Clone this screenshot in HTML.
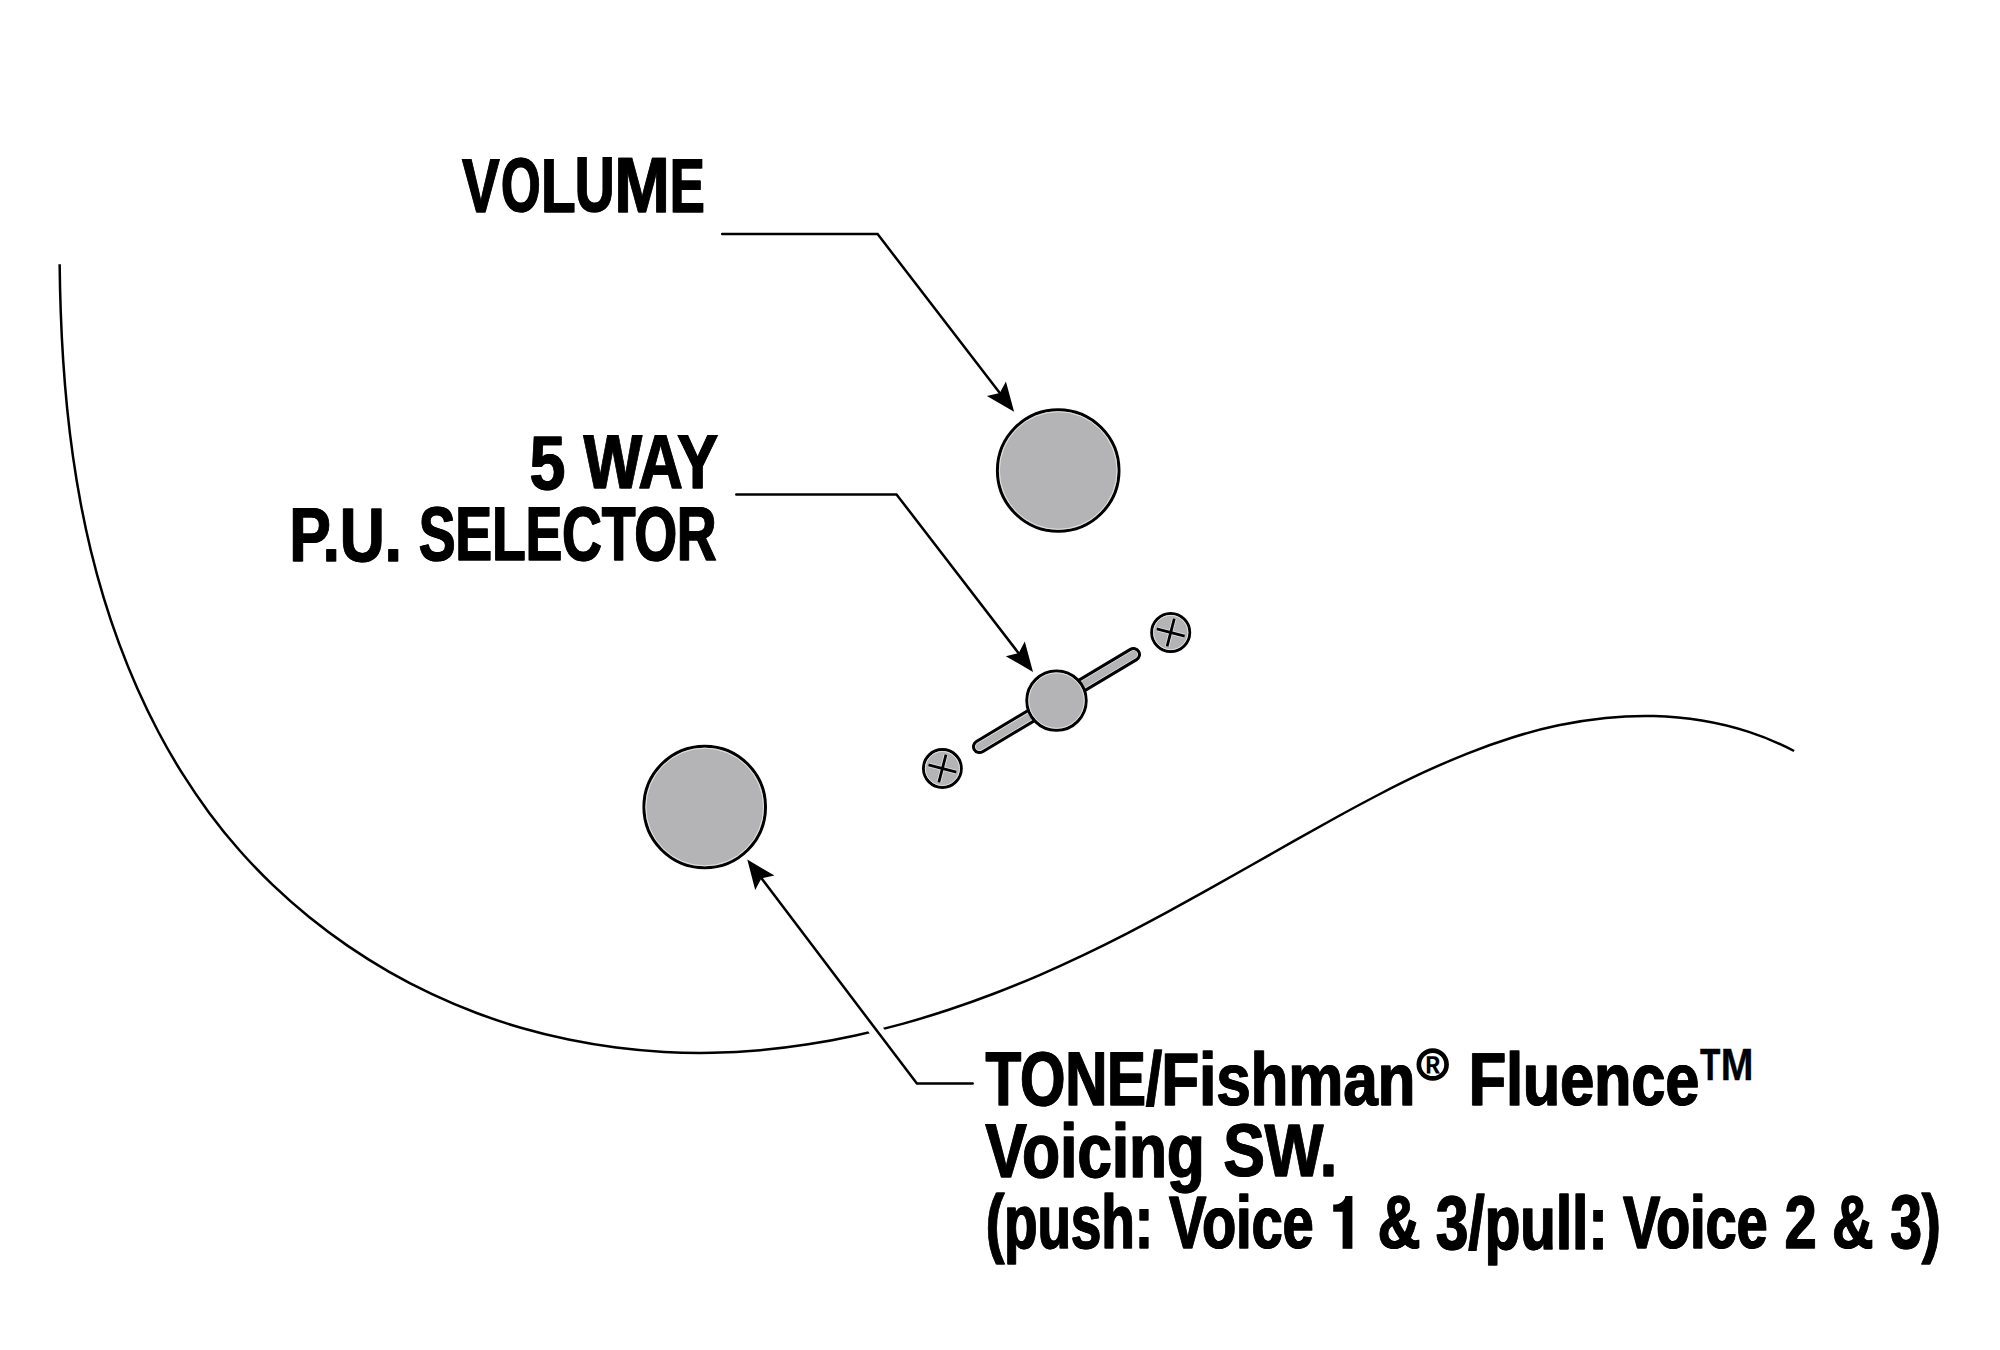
<!DOCTYPE html>
<html><head><meta charset="utf-8"><style>html,body{margin:0;padding:0;background:#fff;width:2000px;height:1350px;overflow:hidden}svg{display:block}</style></head>
<body><svg width="2000" height="1350" viewBox="0 0 2000 1350">
<rect width="2000" height="1350" fill="#fff"/>
<path d="M59.65,264.19 C59.83,280.28 60.19,296.37 60.77,312.45 C61.35,328.52 62.14,344.58 63.20,360.62 C64.25,376.65 65.56,392.66 67.17,408.63 C68.79,424.60 70.70,440.53 72.96,456.41 C75.21,472.29 77.81,488.12 80.80,503.88 C83.78,519.64 87.15,535.34 90.95,550.96 C94.75,566.58 98.97,582.13 103.65,597.56 C108.33,612.99 113.46,628.31 119.05,643.44 C124.64,658.58 130.70,673.54 137.23,688.27 C143.77,703.00 150.78,717.50 158.29,731.72 C165.80,745.93 173.81,759.86 182.32,773.45 C190.84,787.04 199.86,800.29 209.41,813.15 C218.95,826.00 229.03,838.46 239.64,850.47 C250.24,862.49 261.37,874.06 272.97,885.16 C284.57,896.26 296.63,906.89 309.12,917.02 C321.61,927.15 334.52,936.78 347.80,945.88 C361.08,954.98 374.73,963.56 388.70,971.57 C402.68,979.59 416.97,987.05 431.53,993.93 C446.10,1000.81 460.94,1007.10 475.99,1012.77 C491.05,1018.45 506.33,1023.52 521.79,1027.98 C537.24,1032.45 552.86,1036.30 568.61,1039.56 C584.36,1042.82 600.23,1045.48 616.17,1047.54 C632.11,1049.60 648.13,1051.06 664.17,1051.94 C680.21,1052.81 696.28,1053.09 712.31,1052.79 C728.35,1052.48 744.37,1051.59 760.34,1050.16 C776.31,1048.74 792.25,1046.77 808.11,1044.30 C823.98,1041.83 839.79,1038.86 855.51,1035.44 C871.24,1032.02 886.88,1028.15 902.42,1023.86 C917.96,1019.57 933.40,1014.87 948.72,1009.80 C964.04,1004.74 979.24,999.30 994.29,993.54 C1009.35,987.77 1024.27,981.68 1039.03,975.31 C1053.78,968.94 1068.37,962.28 1082.82,955.39 C1097.27,948.50 1111.59,941.37 1125.80,934.07 C1140.02,926.76 1154.13,919.27 1168.19,911.65 C1182.25,904.03 1196.25,896.28 1210.23,888.45 C1224.21,880.62 1238.17,872.71 1252.15,864.78 C1266.13,856.84 1280.13,848.88 1294.18,840.94 C1308.23,833.00 1322.35,825.07 1336.55,817.25 C1350.76,809.43 1365.05,801.72 1379.44,794.25 C1393.84,786.79 1408.35,779.57 1422.97,772.74 C1437.60,765.91 1452.36,759.47 1467.26,753.54 C1482.16,747.61 1497.20,742.21 1512.41,737.46 C1527.61,732.71 1542.98,728.62 1558.54,725.32 C1574.09,722.01 1589.84,719.51 1605.75,717.93 C1621.67,716.34 1637.72,715.69 1653.78,716.07 C1669.83,716.46 1685.88,717.89 1701.77,720.48 C1717.67,723.07 1733.41,726.83 1748.85,731.88 C1764.29,736.92 1779.44,743.25 1794.13,750.99" fill="none" stroke="#000" stroke-width="2.5"/>
<path d="M889.1,1047.2 L864.9,1015.4" fill="none" stroke="#fff" stroke-width="14"/>
<g fill="none" stroke="#000" stroke-width="2.5" stroke-linejoin="miter" stroke-linecap="round">
<path d="M722.2,234.1 L877.6,234.1 L999.8,393.0"/>
<path d="M736.3,494.4 L896.5,494.4 L1018.6,653.2"/>
<path d="M972.7,1083.6 L916.9,1083.6 L761.5,878.3"/>
</g>
<g fill="#000">
<path d="M1014.1,411.7 L986.9,396.0 L999.8,393.0 L1005.9,381.4 Z"/><path d="M1033.0,671.9 L1005.8,656.2 L1018.6,653.2 L1024.8,641.5 Z"/><path d="M747.3,859.6 L774.4,875.5 L761.5,878.3 L755.2,890.0 Z"/>
</g>
<circle cx="1058.20" cy="470.50" r="60.80" fill="#b4b4b6" stroke="#000" stroke-width="3"/><circle cx="1058.20" cy="470.50" r="58.85" fill="none" stroke="#e8e8e8" stroke-width="0.9"/>
<circle cx="704.70" cy="807.00" r="60.80" fill="#b4b4b6" stroke="#000" stroke-width="3"/><circle cx="704.70" cy="807.00" r="58.85" fill="none" stroke="#e8e8e8" stroke-width="0.9"/>
<line x1="979.5" y1="746.6" x2="1133.5" y2="654.5" stroke="#000" stroke-width="15" stroke-linecap="round"/><line x1="979.5" y1="746.6" x2="1133.5" y2="654.5" stroke="#e8e8e8" stroke-width="9" stroke-linecap="round"/><line x1="979.5" y1="746.6" x2="1133.5" y2="654.5" stroke="#b4b4b6" stroke-width="7.4" stroke-linecap="round"/>
<circle cx="1056.50" cy="700.60" r="29.70" fill="#b4b4b6" stroke="#000" stroke-width="3"/><circle cx="1056.50" cy="700.60" r="27.75" fill="none" stroke="#e8e8e8" stroke-width="0.9"/>
<circle cx="1170.70" cy="632.50" r="19.05" fill="#b4b4b6" stroke="#000" stroke-width="2.9"/><circle cx="1170.70" cy="632.50" r="17.15" fill="none" stroke="#e8e8e8" stroke-width="0.9"/><line x1="1184.64" y1="636.11" x2="1156.76" y2="628.89" stroke="#e8e8e8" stroke-width="4.40"/><line x1="1167.09" y1="646.44" x2="1174.31" y2="618.56" stroke="#e8e8e8" stroke-width="4.40"/><line x1="1184.64" y1="636.11" x2="1156.76" y2="628.89" stroke="#000" stroke-width="2.80"/><line x1="1167.09" y1="646.44" x2="1174.31" y2="618.56" stroke="#000" stroke-width="2.80"/>
<circle cx="942.40" cy="768.50" r="18.95" fill="#b4b4b6" stroke="#000" stroke-width="2.9"/><circle cx="942.40" cy="768.50" r="17.05" fill="none" stroke="#e8e8e8" stroke-width="0.9"/><line x1="956.34" y1="772.11" x2="928.46" y2="764.89" stroke="#e8e8e8" stroke-width="4.40"/><line x1="938.79" y1="782.44" x2="946.01" y2="754.56" stroke="#e8e8e8" stroke-width="4.40"/><line x1="956.34" y1="772.11" x2="928.46" y2="764.89" stroke="#000" stroke-width="2.80"/><line x1="938.79" y1="782.44" x2="946.01" y2="754.56" stroke="#000" stroke-width="2.80"/>
<g font-family="Liberation Sans, sans-serif" font-weight="bold" fill="#000">
<text transform="matrix(0.28057 0 0 0.38263 447.844 96.845)" font-size="200" stroke="#000" stroke-width="2.673" stroke-linejoin="miter" stroke-miterlimit="3"><tspan x="50" y="300">V</tspan></text><text transform="matrix(0.28057 0 0 0.38263 448.604 96.845)" font-size="200" stroke="#000" stroke-width="2.673" stroke-linejoin="miter" stroke-miterlimit="3"><tspan x="50" y="300">V</tspan></text>
<text transform="matrix(0.25329 0 0 0.38425 488.181 95.887)" font-size="200" stroke="#000" stroke-width="2.961" stroke-linejoin="miter" stroke-miterlimit="3"><tspan x="50" y="300">O</tspan></text><text transform="matrix(0.25329 0 0 0.38425 488.941 95.887)" font-size="200" stroke="#000" stroke-width="2.961" stroke-linejoin="miter" stroke-miterlimit="3"><tspan x="50" y="300">O</tspan></text>
<text transform="matrix(0.27927 0 0 0.38260 526.922 96.853)" font-size="200" stroke="#000" stroke-width="2.686" stroke-linejoin="miter" stroke-miterlimit="3"><tspan x="50" y="300">L</tspan></text><text transform="matrix(0.27927 0 0 0.38260 527.682 96.853)" font-size="200" stroke="#000" stroke-width="2.686" stroke-linejoin="miter" stroke-miterlimit="3"><tspan x="50" y="300">L</tspan></text>
<text transform="matrix(0.27481 0 0 0.38636 560.819 95.346)" font-size="200" stroke="#000" stroke-width="2.729" stroke-linejoin="miter" stroke-miterlimit="3"><tspan x="50" y="300">U</tspan></text><text transform="matrix(0.27481 0 0 0.38636 561.579 95.346)" font-size="200" stroke="#000" stroke-width="2.729" stroke-linejoin="miter" stroke-miterlimit="3"><tspan x="50" y="300">U</tspan></text>
<text transform="matrix(0.33247 0 0 0.38630 597.311 95.819)" font-size="200" stroke="#000" stroke-width="2.256" stroke-linejoin="miter" stroke-miterlimit="3"><tspan x="50" y="300">M</tspan></text><text transform="matrix(0.33247 0 0 0.38630 598.071 95.819)" font-size="200" stroke="#000" stroke-width="2.256" stroke-linejoin="miter" stroke-miterlimit="3"><tspan x="50" y="300">M</tspan></text>
<text transform="matrix(0.26093 0 0 0.38447 656.543 96.251)" font-size="200" stroke="#000" stroke-width="2.874" stroke-linejoin="miter" stroke-miterlimit="3"><tspan x="50" y="300">E</tspan></text><text transform="matrix(0.26093 0 0 0.38447 657.303 96.251)" font-size="200" stroke="#000" stroke-width="2.874" stroke-linejoin="miter" stroke-miterlimit="3"><tspan x="50" y="300">E</tspan></text>
<text transform="matrix(0.32137 0 0 0.38277 513.296 373.771)" font-size="200" stroke="#000" stroke-width="2.334" stroke-linejoin="miter" stroke-miterlimit="3"><tspan x="50" y="300">5</tspan></text><text transform="matrix(0.32137 0 0 0.38277 514.056 373.771)" font-size="200" stroke="#000" stroke-width="2.334" stroke-linejoin="miter" stroke-miterlimit="3"><tspan x="50" y="300">5</tspan></text>
<text transform="matrix(0.30775 0 0 0.38185 567.992 373.806)" font-size="200" stroke="#000" stroke-width="2.437" stroke-linejoin="miter" stroke-miterlimit="3"><tspan x="50" y="300">WAY</tspan></text><text transform="matrix(0.30775 0 0 0.38185 568.752 373.806)" font-size="200" stroke="#000" stroke-width="2.437" stroke-linejoin="miter" stroke-miterlimit="3"><tspan x="50" y="300">WAY</tspan></text>
<text transform="matrix(0.31004 0 0 0.38140 273.426 446.195)" font-size="200" stroke="#000" stroke-width="2.419" stroke-linejoin="miter" stroke-miterlimit="3"><tspan x="50" y="300">P.U.</tspan></text><text transform="matrix(0.31004 0 0 0.38140 274.186 446.195)" font-size="200" stroke="#000" stroke-width="2.419" stroke-linejoin="miter" stroke-miterlimit="3"><tspan x="50" y="300">P.U.</tspan></text>
<text transform="matrix(0.27439 0 0 0.38074 404.741 446.259)" font-size="200" stroke="#000" stroke-width="2.733" stroke-linejoin="miter" stroke-miterlimit="3"><tspan x="50" y="300">SELECTOR</tspan></text><text transform="matrix(0.27439 0 0 0.38074 405.501 446.259)" font-size="200" stroke="#000" stroke-width="2.733" stroke-linejoin="miter" stroke-miterlimit="3"><tspan x="50" y="300">SELECTOR</tspan></text>
<text transform="matrix(0.29045 0 0 0.37985 970.801 990.853)" font-size="200" stroke="#000" stroke-width="2.582" stroke-linejoin="miter" stroke-miterlimit="3"><tspan x="50" y="300">TONE/</tspan></text><text transform="matrix(0.29045 0 0 0.37985 971.561 990.853)" font-size="200" stroke="#000" stroke-width="2.582" stroke-linejoin="miter" stroke-miterlimit="3"><tspan x="50" y="300">TONE/</tspan></text>
<text transform="matrix(0.30881 0 0 0.37390 1145.659 992.377)" font-size="200" stroke="#000" stroke-width="2.429" stroke-linejoin="miter" stroke-miterlimit="3"><tspan x="50" y="300">Fishman</tspan></text><text transform="matrix(0.30881 0 0 0.37390 1146.419 992.377)" font-size="200" stroke="#000" stroke-width="2.429" stroke-linejoin="miter" stroke-miterlimit="3"><tspan x="50" y="300">Fishman</tspan></text>
<text transform="matrix(0.30519 0 0 0.37418 1453.122 992.337)" font-size="200" stroke="#000" stroke-width="2.458" stroke-linejoin="miter" stroke-miterlimit="3"><tspan x="50" y="300">Fluence</tspan></text><text transform="matrix(0.30519 0 0 0.37418 1453.882 992.337)" font-size="200" stroke="#000" stroke-width="2.458" stroke-linejoin="miter" stroke-miterlimit="3"><tspan x="50" y="300">Fluence</tspan></text>
<text transform="matrix(0.20025 0 0 0.21651 1408.111 1014.653)" font-size="200" stroke="#000" stroke-width="0.000" stroke-linejoin="miter" stroke-miterlimit="3"><tspan x="50" y="300">&#174;</tspan></text>
<circle cx="1432.7" cy="1064.5" r="13.9" fill="none" stroke="#000" stroke-width="4.6"/>
<text transform="matrix(0.16689 0 0 0.22240 1691.775 1013.623)" font-size="200" stroke="#000" stroke-width="1.798" stroke-linejoin="miter" stroke-miterlimit="3"><tspan x="50" y="300">T</tspan></text>
<text transform="matrix(0.19631 0 0 0.22574 1711.029 1012.455)" font-size="200" stroke="#000" stroke-width="1.528" stroke-linejoin="miter" stroke-miterlimit="3"><tspan x="50" y="300">M</tspan></text>
<text transform="matrix(0.31030 0 0 0.37994 969.467 1062.812)" font-size="200" stroke="#000" stroke-width="2.417" stroke-linejoin="miter" stroke-miterlimit="3"><tspan x="50" y="300">Voicing</tspan></text><text transform="matrix(0.31030 0 0 0.37994 970.227 1062.812)" font-size="200" stroke="#000" stroke-width="2.417" stroke-linejoin="miter" stroke-miterlimit="3"><tspan x="50" y="300">Voicing</tspan></text>
<text transform="matrix(0.31066 0 0 0.37383 1207.382 1064.164)" font-size="200" stroke="#000" stroke-width="2.414" stroke-linejoin="miter" stroke-miterlimit="3"><tspan x="50" y="300">SW.</tspan></text><text transform="matrix(0.31066 0 0 0.37383 1208.142 1064.164)" font-size="200" stroke="#000" stroke-width="2.414" stroke-linejoin="miter" stroke-miterlimit="3"><tspan x="50" y="300">SW.</tspan></text>
<text transform="matrix(0.27333 0 0 0.37679 971.956 1135.089)" font-size="200" stroke="#000" stroke-width="2.744" stroke-linejoin="miter" stroke-miterlimit="3"><tspan x="50" y="300">(push:</tspan></text><text transform="matrix(0.27333 0 0 0.37679 972.716 1135.089)" font-size="200" stroke="#000" stroke-width="2.744" stroke-linejoin="miter" stroke-miterlimit="3"><tspan x="50" y="300">(push:</tspan></text>
<text transform="matrix(0.27868 0 0 0.37458 1154.752 1136.032)" font-size="200" stroke="#000" stroke-width="2.691" stroke-linejoin="miter" stroke-miterlimit="3"><tspan x="50" y="300">Voice</tspan></text><text transform="matrix(0.27868 0 0 0.37458 1155.512 1136.032)" font-size="200" stroke="#000" stroke-width="2.691" stroke-linejoin="miter" stroke-miterlimit="3"><tspan x="50" y="300">Voice</tspan></text>
<text transform="matrix(0.29673 0 0 0.37452 1362.423 1135.654)" font-size="200" stroke="#000" stroke-width="2.528" stroke-linejoin="miter" stroke-miterlimit="3"><tspan x="50" y="300">&amp;</tspan></text><text transform="matrix(0.29673 0 0 0.37452 1363.183 1135.654)" font-size="200" stroke="#000" stroke-width="2.528" stroke-linejoin="miter" stroke-miterlimit="3"><tspan x="50" y="300">&amp;</tspan></text>
<text transform="matrix(0.29204 0 0 0.37756 1420.875 1135.526)" font-size="200" stroke="#000" stroke-width="2.568" stroke-linejoin="miter" stroke-miterlimit="3"><tspan x="50" y="300">3/pull:</tspan></text><text transform="matrix(0.29204 0 0 0.37756 1421.635 1135.526)" font-size="200" stroke="#000" stroke-width="2.568" stroke-linejoin="miter" stroke-miterlimit="3"><tspan x="50" y="300">3/pull:</tspan></text>
<text transform="matrix(0.27843 0 0 0.37457 1608.770 1136.034)" font-size="200" stroke="#000" stroke-width="2.694" stroke-linejoin="miter" stroke-miterlimit="3"><tspan x="50" y="300">Voice</tspan></text><text transform="matrix(0.27843 0 0 0.37457 1609.530 1136.034)" font-size="200" stroke="#000" stroke-width="2.694" stroke-linejoin="miter" stroke-miterlimit="3"><tspan x="50" y="300">Voice</tspan></text>
<text transform="matrix(0.28773 0 0 0.37424 1769.925 1136.105)" font-size="200" stroke="#000" stroke-width="2.607" stroke-linejoin="miter" stroke-miterlimit="3"><tspan x="50" y="300">2</tspan></text><text transform="matrix(0.28773 0 0 0.37424 1770.685 1136.105)" font-size="200" stroke="#000" stroke-width="2.607" stroke-linejoin="miter" stroke-miterlimit="3"><tspan x="50" y="300">2</tspan></text>
<text transform="matrix(0.28571 0 0 0.37425 1817.518 1135.721)" font-size="200" stroke="#000" stroke-width="2.625" stroke-linejoin="miter" stroke-miterlimit="3"><tspan x="50" y="300">&amp;</tspan></text><text transform="matrix(0.28571 0 0 0.37425 1818.278 1135.721)" font-size="200" stroke="#000" stroke-width="2.625" stroke-linejoin="miter" stroke-miterlimit="3"><tspan x="50" y="300">&amp;</tspan></text>
<text transform="matrix(0.28335 0 0 0.37722 1875.715 1134.997)" font-size="200" stroke="#000" stroke-width="2.647" stroke-linejoin="miter" stroke-miterlimit="3"><tspan x="50" y="300">3)</tspan></text><text transform="matrix(0.28335 0 0 0.37722 1876.475 1134.997)" font-size="200" stroke="#000" stroke-width="2.647" stroke-linejoin="miter" stroke-miterlimit="3"><tspan x="50" y="300">3)</tspan></text>
<clipPath id="c1"><rect x="1345.6" y="1197" width="6.3" height="51.3"/></clipPath>
<g clip-path="url(#c1)"><text transform="matrix(0.30190 0 0 0.37713 1313.845 1135.258)" font-size="200" stroke="#000" stroke-width="2.484" stroke-linejoin="miter" stroke-miterlimit="3"><tspan x="50" y="300">1</tspan></text><text transform="matrix(0.30190 0 0 0.37713 1314.605 1135.258)" font-size="200" stroke="#000" stroke-width="2.484" stroke-linejoin="miter" stroke-miterlimit="3"><tspan x="50" y="300">1</tspan></text></g>
<path d="M1333.2,1204.6 C1339.2,1204.6 1344.6,1201.6 1345.4,1195.9 L1352.4,1195.9 L1352.4,1248.8 L1342.6,1248.8 L1342.6,1211.8 L1333.2,1211.8 Z"/>
</g>
</svg></body></html>
